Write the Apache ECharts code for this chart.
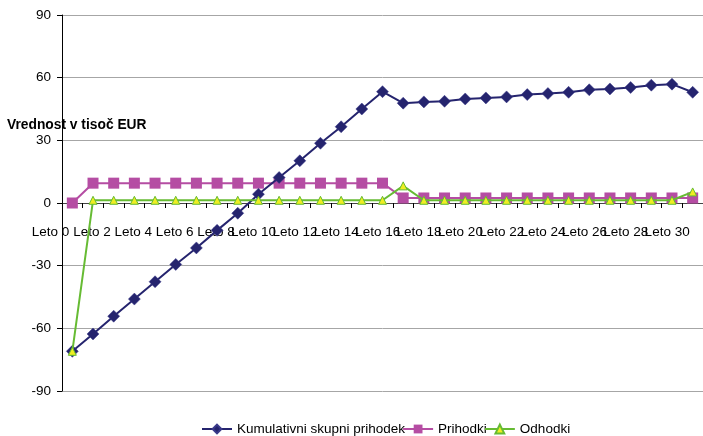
<!DOCTYPE html>
<html>
<head>
<meta charset="utf-8">
<script src="https://cdn.jsdelivr.net/npm/echarts@6/dist/echarts.min.js"></script>
<style>html,body{margin:0;padding:0;background:#fff}#c{width:703px;height:436px}</style>
</head>
<body>
<div id="c"></div>
<script>
var categories = ["Leto 0","Leto 1","Leto 2","Leto 3","Leto 4","Leto 5","Leto 6","Leto 7","Leto 8","Leto 9","Leto 10","Leto 11","Leto 12","Leto 13","Leto 14","Leto 15","Leto 16","Leto 17","Leto 18","Leto 19","Leto 20","Leto 21","Leto 22","Leto 23","Leto 24","Leto 25","Leto 26","Leto 27","Leto 28","Leto 29","Leto 30"];
var kumulativni = [-71.0,-62.7,-54.2,-46.0,-37.7,-29.4,-21.5,-13.1,-4.9,4.2,12.2,20.2,28.6,36.5,45.0,53.3,47.8,48.4,48.7,49.8,50.3,50.8,51.9,52.4,53.0,54.2,54.6,55.3,56.4,56.9,53.0];
var prihodki = [0,9.5,9.5,9.5,9.5,9.5,9.5,9.5,9.5,9.5,9.5,9.5,9.5,9.5,9.5,9.5,2.4,2.4,2.4,2.4,2.4,2.4,2.4,2.4,2.4,2.4,2.4,2.4,2.4,2.4,2.4];
var odhodki = [-71.0,1.3,1.3,1.3,1.3,1.3,1.3,1.3,1.3,1.3,1.3,1.3,1.3,1.3,1.3,1.3,8.2,1.3,1.3,1.3,1.3,1.3,1.3,1.3,1.3,1.3,1.3,1.3,1.3,1.3,5.3];
var seriesNames = ["Kumulativni skupni prihodek","Prihodki","Odhodki"];
var yTicks = {min:-90, max:90, interval:30};
var axisTitle = "Vrednost v tisoč EUR";

var FONT = "Liberation Sans, Arial, sans-serif";
var FS = 13.5;
var GRID_TOP = 15, GRID_BOTTOM = 45, H = 436;
var plotH = H - GRID_TOP - GRID_BOTTOM;
// distance from the bottom of the plot to the value 0 (axis crosses at zero)
var zeroOffset = plotH * (0 - yTicks.min) / (yTicks.max - yTicks.min);

var chart = echarts.init(document.getElementById('c'), null, {renderer:'canvas'});
chart.setOption({
  animation: false,
  backgroundColor: '#fff',
  grid: {left: 62, right: -4, top: GRID_TOP, bottom: GRID_BOTTOM},
  legend: {
    left: 201, top: 422, padding: 0, itemWidth: 30, itemHeight: 11, itemGap: -3,
    textStyle: {fontFamily: FONT, fontSize: FS, color: '#000'},
    data: seriesNames
  },
  graphic: [{
    type: 'text', left: 7, top: 118, z: 100,
    style: {text: axisTitle, font: 'bold 13.8px ' + FONT, fill: '#000'}
  }],
  xAxis: {
    type: 'category', data: categories, boundaryGap: true,
    position: 'bottom', offset: -zeroOffset,
    axisLine: {onZero: false, lineStyle: {color: '#444', width: 1}},
    axisTick: {show: true, interval: 0, length: 5, lineStyle: {color: '#000'}},
    axisLabel: {interval: 0, margin: 22, align: 'right', padding: [0, 3, 0, 0],
      formatter: function (v, i) { return i % 2 === 0 ? v : ''; },
      fontFamily: FONT, fontSize: FS, color: '#000'},
    splitLine: {show: false}
  },
  yAxis: {
    type: 'value', min: yTicks.min, max: yTicks.max, interval: yTicks.interval,
    axisLine: {show: true, onZero: false, lineStyle: {color: '#000', width: 1}},
    axisTick: {show: true, length: 5, lineStyle: {color: '#000'}},
    axisLabel: {margin: 11, fontFamily: FONT, fontSize: FS, color: '#000'},
    splitLine: {show: true, lineStyle: {color: '#a6a6a6', width: 1}}
  },
  series: [
    {name: seriesNames[0], type: 'line', data: kumulativni, z: 3,
     symbol: 'diamond', symbolSize: 12,
     itemStyle: {color: '#25246e', borderColor: '#3a3a8a', borderWidth: 0.5},
     lineStyle: {color: '#25246e', width: 2}},
    {name: seriesNames[1], type: 'line', data: prihodki, z: 2,
     symbol: 'rect', symbolSize: 11,
     itemStyle: {color: '#b54da3'},
     lineStyle: {color: '#b54da3', width: 2}},
    {name: seriesNames[2], type: 'line', data: odhodki, z: 4,
     symbol: 'triangle', symbolSize: 8,
     itemStyle: {color: '#eeee22', borderColor: '#66bb33', borderWidth: 1},
     lineStyle: {color: '#66bb33', width: 2}}
  ]
});
</script>
</body>
</html>
